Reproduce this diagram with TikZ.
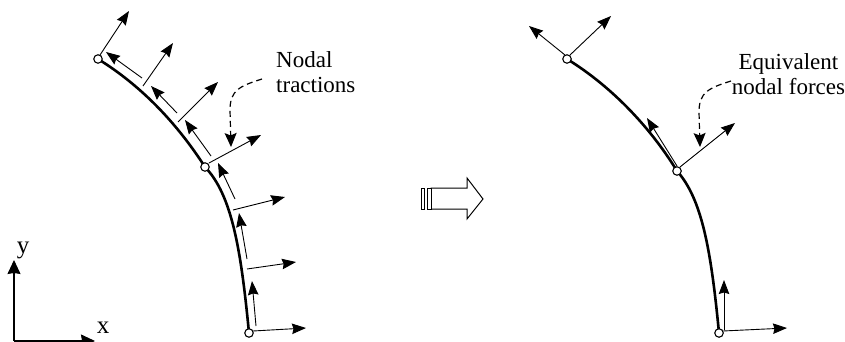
\documentclass[tikz,border=0pt]{standalone}
\usepackage{fontspec}
\setmainfont{Liberation Serif}
\usetikzlibrary{arrows.meta}
\tikzset{
  x=1pt,y=-1pt,
  pin/.style={circle,draw=black,fill=white,line width=1.1pt,inner sep=0pt,minimum size=8.5pt},
  beam/.style={line width=2.6pt,black},
  vec/.style={line width=0.9pt,-{Stealth[length=14pt,width=10.5pt,inset=1.5pt]}},
  axis/.style={line width=1.1pt,-{Stealth[length=14pt,width=13pt,inset=1pt]}},
  lead/.style={line width=1.2pt,dash pattern=on 6pt off 4pt,-{Stealth[length=14pt,width=12pt,inset=2.5pt]}},
  lbl/.style={font=\fontsize{23}{25}\selectfont,inner sep=0pt},
  hollow/.style={draw=black,fill=white,line width=1pt},
}
\begin{document}
\begin{tikzpicture}
\useasboundingbox (0,0) rectangle (845,342);
% left beam
\coordinate (la) at (98,59);
\coordinate (lb) at (205,167);
\coordinate (lc) at (249,333);
\draw[beam] (la) .. controls (145,88) and (180,128) .. (lb) .. controls (232,195) and (241,250) .. (lc);
% left normals
\foreach \n/\sx/\sy/\ex/\ey in {1/100/55/129/11,2/143/86/173/43,3/178/122/218/82,4/209/163/261/135,5/233/210/285/197,6/247/269/296/262,7/253/331/306/328}{
  \coordinate (ln\n s) at (\sx,\sy);
  \coordinate (ln\n e) at (\ex,\ey);
  \draw[vec] (ln\n s) -- (ln\n e);
}
% left tangents
\foreach \n/\sx/\sy/\ex/\ey in {1/142/78/106/52,2/177/113/151/86,3/211/156/185/120,4/235/199/218/163,5/247/259/239/213,6/256/326/252/281}{
  \coordinate (lt\n s) at (\sx,\sy);
  \coordinate (lt\n e) at (\ex,\ey);
  \draw[vec] (lt\n s) -- (lt\n e);
}
\node[pin] (lpa) at (la) {};
\node[pin] (lpb) at (lb) {};
\node[pin] (lpc) at (lc) {};
% right beam
\coordinate (ra) at (567,59);
\coordinate (rb) at (677,171);
\coordinate (rc) at (719,333);
\draw[beam] (ra) .. controls (614,88) and (652,130) .. (rb) .. controls (702,199) and (711,250) .. (rc);
\foreach \n/\sx/\sy/\ex/\ey in {1/565/55/529/26,2/570/55/611/16,3/677/166/647/118,4/680/167/735/123,5/724/330/724/280,6/723/331/787/328}{
  \coordinate (rv\n s) at (\sx,\sy);
  \coordinate (rv\n e) at (\ex,\ey);
  \draw[vec] (rv\n s) -- (rv\n e);
}
\node[pin] (rpa) at (ra) {};
\node[pin] (rpb) at (rb) {};
\node[pin] (rpc) at (rc) {};
% labels and leaders
\node[lbl,anchor=base west] (ltxt1) at (276,68) {Nodal};
\node[lbl,anchor=base west] (ltxt2) at (276,93) {tractions};
\node[lbl,anchor=base] (rtxt1) at (788.5,70) {Equivalent};
\node[lbl,anchor=base] (rtxt2) at (788.5,95) {nodal forces};
\coordinate (lls) at (262,79);
\coordinate (llt) at (231,147);
\coordinate (rls) at (731,81);
\coordinate (rlt) at (700,147);
\draw[lead] (lls) .. controls (240,86) and (230,90) .. (230,110) -- (llt);
\draw[lead] (rls) .. controls (709,88) and (699,92) .. (699,112) -- (rlt);
% axes
\coordinate (o) at (14,341);
\coordinate (oy) at (14,260);
\coordinate (ox) at (95,341);
\draw[axis] (o) -- (oy);
\draw[axis] (o) -- (ox);
\node[font=\fontsize{25}{27}\selectfont,inner sep=0pt] (ylab) at (23,250) {y};
\node[font=\fontsize{25}{27}\selectfont,inner sep=0pt] (xlab) at (103,328) {x};
% block arrow
\draw[hollow] (431,188) -- (467,188) -- (467,178) -- (483,199) -- (467,219) -- (467,209) -- (431,209) -- cycle;
\draw[hollow] (427,188) rectangle (431,209);
\draw[hollow] (421.5,188) rectangle (424.5,209);
\end{tikzpicture}
\end{document}
